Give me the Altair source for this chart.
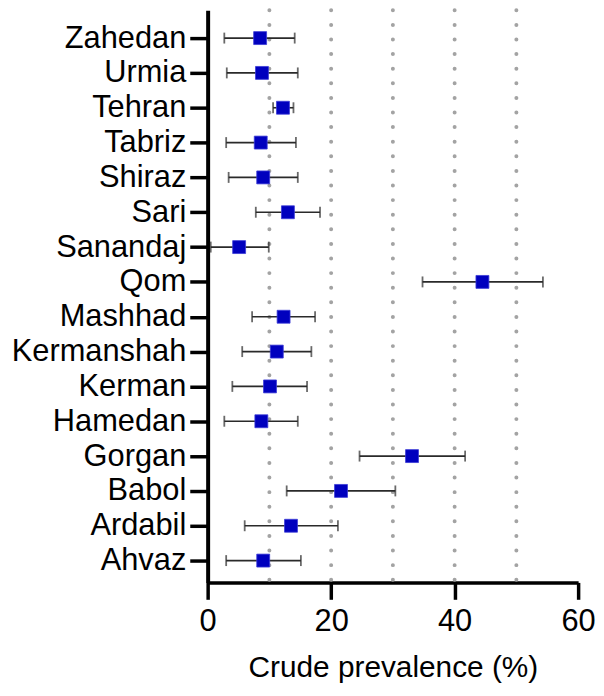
import altair as alt
import pandas as pd

cities = ["Zahedan", "Urmia", "Tehran", "Tabriz", "Shiraz", "Sari", "Sanandaj", "Qom",
          "Mashhad", "Kermanshah", "Kerman", "Hamedan", "Gorgan", "Babol", "Ardabil", "Ahvaz"]
prevalence = [8.5, 8.8, 12.2, 8.6, 9.0, 13.0, 5.1, 44.5, 12.3, 11.2, 10.1, 8.7, 33.1, 21.6, 13.5, 9.0]
ci_low = [2.7, 3.1, 10.6, 3.0, 3.4, 7.8, 0.5, 34.8, 7.2, 5.6, 4.0, 2.7, 24.6, 12.8, 6.0, 3.0]
ci_high = [14.1, 14.6, 13.9, 14.3, 14.6, 18.2, 9.9, 54.3, 17.4, 16.8, 16.1, 14.6, 41.7, 30.4, 21.1, 15.1]
grid_values = [10, 20, 30, 40, 50]
x_ticks = [0, 20, 40, 60]

df = pd.DataFrame({"city": cities, "prev": prevalence, "lo": ci_low, "hi": ci_high})
grid_df = pd.DataFrame({"g": grid_values})

FONT = "Liberation Sans"

x_scale = alt.Scale(domain=[0, 60], nice=False, zero=False)
y_scale = alt.Scale(type="point", padding=0.712, align=0.56)

x_axis = alt.Axis(values=x_ticks, title="Crude prevalence (%)", grid=False,
                  domainColor="black", domainWidth=3.5, tickColor="black", tickWidth=3.5,
                  tickSize=17, labelFontSize=31, labelFont=FONT, labelColor="black",
                  labelPadding=7, labelFlush=False,
                  titleFont=FONT, titleFontSize=30, titleFontWeight="normal",
                  titleColor="black", titlePadding=17)
y_axis = alt.Axis(title=None, grid=False, domainColor="black", domainWidth=4,
                  tickColor="black", tickWidth=3.5, tickSize=18, labelFontSize=31,
                  labelFont=FONT, labelColor="black", labelPadding=4)

grid = alt.Chart(grid_df).mark_rule(color="#a3a3a3", strokeWidth=4, strokeDash=[0, 14.7],
                                    strokeCap="round").encode(
    x=alt.X("g:Q", scale=x_scale, axis=x_axis)
)

base = alt.Chart(df)
whisker = base.mark_rule(color="#2a2a2a", strokeWidth=1.6).encode(
    x=alt.X("lo:Q", scale=x_scale, axis=x_axis),
    x2="hi:Q",
    y=alt.Y("city:N", sort=cities, scale=y_scale, axis=y_axis),
)
cap_lo = base.mark_tick(color="#2a2a2a", thickness=1.8, size=11).encode(
    x=alt.X("lo:Q", scale=x_scale, axis=x_axis),
    y=alt.Y("city:N", sort=cities, scale=y_scale, axis=y_axis),
)
cap_hi = base.mark_tick(color="#2a2a2a", thickness=1.8, size=11).encode(
    x=alt.X("hi:Q", scale=x_scale, axis=x_axis),
    y=alt.Y("city:N", sort=cities, scale=y_scale, axis=y_axis),
)
points = base.mark_square(color="#0000BE", opacity=1, size=169, stroke="#3a3ad6",
                          strokeWidth=0.8).encode(
    x=alt.X("prev:Q", scale=x_scale, axis=x_axis),
    y=alt.Y("city:N", sort=cities, scale=y_scale, axis=y_axis),
)

chart = alt.layer(grid, whisker, cap_lo, cap_hi, points).properties(
    width=373, height=576,
    autosize=alt.AutoSizeParams(type="none"),
    padding={"left": 201, "top": 0, "right": 18, "bottom": 106},
).configure_view(stroke=None)

chart.save("out.html", embed_options={"renderer": "svg", "actions": False})
